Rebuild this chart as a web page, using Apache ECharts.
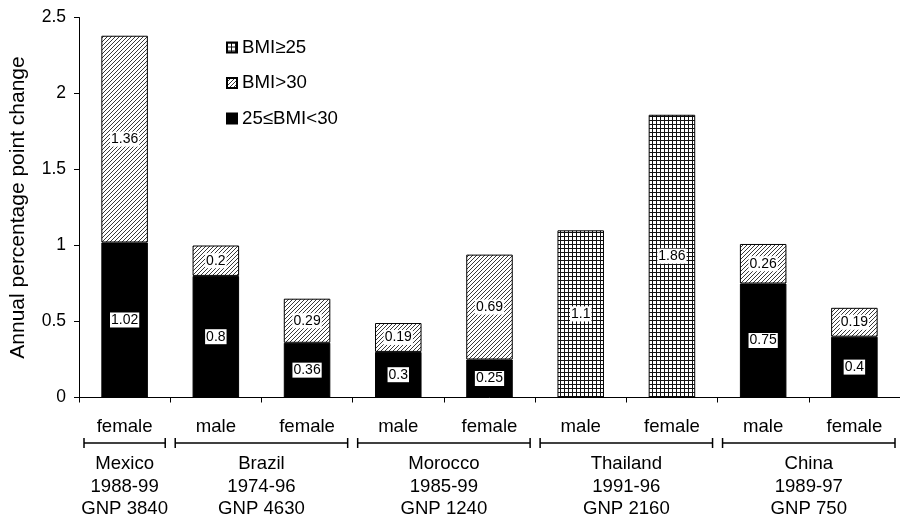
<!DOCTYPE html>
<html>
<head>
<meta charset="utf-8">
<script src="https://cdn.jsdelivr.net/npm/echarts@6/dist/echarts.min.js"></script>
<style>html,body{margin:0;padding:0;background:#fff}#c{width:900px;height:517px}</style>
</head>
<body>
<div id="c"></div>
<script>
var categories = ['female','male','female','male','female','male','female','male','female'];
var groups = [
  {name:'Mexico\n1988-99\nGNP 3840', from:0, to:0},
  {name:'Brazil\n1974-96\nGNP 4630', from:1, to:2},
  {name:'Morocco\n1985-99\nGNP 1240', from:3, to:4},
  {name:'Thailand\n1991-96\nGNP 2160', from:5, to:6},
  {name:'China\n1989-97\nGNP 750', from:7, to:8}
];
var bmi25to30 = [1.02, 0.8, 0.36, 0.3, 0.25, null, null, 0.75, 0.4];
var bmi30 = [1.36, 0.2, 0.29, 0.19, 0.69, null, null, 0.26, 0.19];
var bmi25 = [null, null, null, null, null, 1.1, 1.86, null, null];
var yTicks = [0, 0.5, 1, 1.5, 2, 2.5];

function hatch(){
  var c=document.createElement('canvas'); c.width=4; c.height=4;
  var g=c.getContext('2d'); g.fillStyle='#fff'; g.fillRect(0,0,4,4);
  g.strokeStyle='#222'; g.lineWidth=0.9;
  g.beginPath(); g.moveTo(0,4); g.lineTo(4,0); g.moveTo(-1,1); g.lineTo(1,-1); g.moveTo(3,5); g.lineTo(5,3); g.stroke();
  return c;
}
function gridPat(){
  var c=document.createElement('canvas'); c.width=4; c.height=4;
  var g=c.getContext('2d'); g.fillStyle='#fff'; g.fillRect(0,0,4,4);
  g.fillStyle='#111'; g.fillRect(0,0,4,1); g.fillRect(0,0,1,4);
  return c;
}
var hatchFill={image:hatch(),repeat:'repeat'};
var gridFill={image:gridPat(),repeat:'repeat'};

var FONT='Liberation Sans, Arial, sans-serif';
var lbl={show:true,position:'inside',color:'#000',backgroundColor:'#fff',padding:[1,1,0,1],fontSize:14,fontFamily:FONT};
var chart=echarts.init(document.getElementById('c'),null,{renderer:'canvas'});
chart.setOption({
  animation:false,
  grid:{left:78,top:17.5,right:-4,bottom:119.5,containLabel:false},
  legend:{orient:'vertical',left:226,top:38,padding:0,icon:'rect',itemWidth:10,itemHeight:10,itemGap:16.5,
    textStyle:{fontSize:18.7,fontFamily:FONT,color:'#000'},
    data:['BMI≥25','BMI>30','25≤BMI<30']},
  xAxis:{type:'category',data:categories,
    axisLine:{lineStyle:{color:'#000',width:1}},
    axisTick:{show:true,alignWithLabel:false,length:5,lineStyle:{color:'#000'}},
    axisLabel:{color:'#000',fontSize:18.6,fontFamily:FONT,margin:20}},
  yAxis:{type:'value',min:0,max:2.5,interval:0.5,
    name:'Annual percentage point change',nameLocation:'middle',nameGap:50,
    nameTextStyle:{fontSize:21,fontFamily:FONT,color:'#000'},
    axisLine:{show:true,lineStyle:{color:'#000'}},
    axisTick:{show:true,length:5,lineStyle:{color:'#000'}},
    splitLine:{show:false},
    axisLabel:{color:'#000',fontSize:17.5,fontFamily:FONT,margin:13,
      formatter:function(v){return yTicks.indexOf(v)>=0?String(v):'';}}},
  series:[
    {name:'25≤BMI<30',type:'bar',stack:'a',data:bmi25to30,barWidth:'51%',
      itemStyle:{color:'#000',borderColor:'#000',borderWidth:1},label:lbl},
    {name:'BMI>30',type:'bar',stack:'a',data:bmi30,
      itemStyle:{color:hatchFill,borderColor:'#000',borderWidth:1},label:lbl},
    {name:'BMI≥25',type:'bar',stack:'a',data:bmi25,
      itemStyle:{color:gridFill,borderColor:'#000',borderWidth:1},label:lbl}
  ]
});
// group brackets and labels computed from the category scale
var els=[];
var half=(chart.convertToPixel({xAxisIndex:0},1)-chart.convertToPixel({xAxisIndex:0},0))/2;
groups.forEach(function(gr){
  var x1=chart.convertToPixel({xAxisIndex:0},gr.from)-half+5;
  var x2=chart.convertToPixel({xAxisIndex:0},gr.to)+half-5;
  var y=443;
  els.push({type:'line',shape:{x1:x1,y1:y,x2:x2,y2:y},style:{stroke:'#000',lineWidth:1.5}});
  els.push({type:'line',shape:{x1:x1,y1:y-5,x2:x1,y2:y+5},style:{stroke:'#000',lineWidth:1.5}});
  els.push({type:'line',shape:{x1:x2,y1:y-5,x2:x2,y2:y+5},style:{stroke:'#000',lineWidth:1.5}});
  els.push({type:'text',x:(x1+x2)/2,y:453,style:{text:gr.name,align:'center',verticalAlign:'top',fontSize:18.6,lineHeight:22.5,fontFamily:FONT,fill:'#000'}});
});
chart.setOption({graphic:els});
</script>
</body>
</html>
